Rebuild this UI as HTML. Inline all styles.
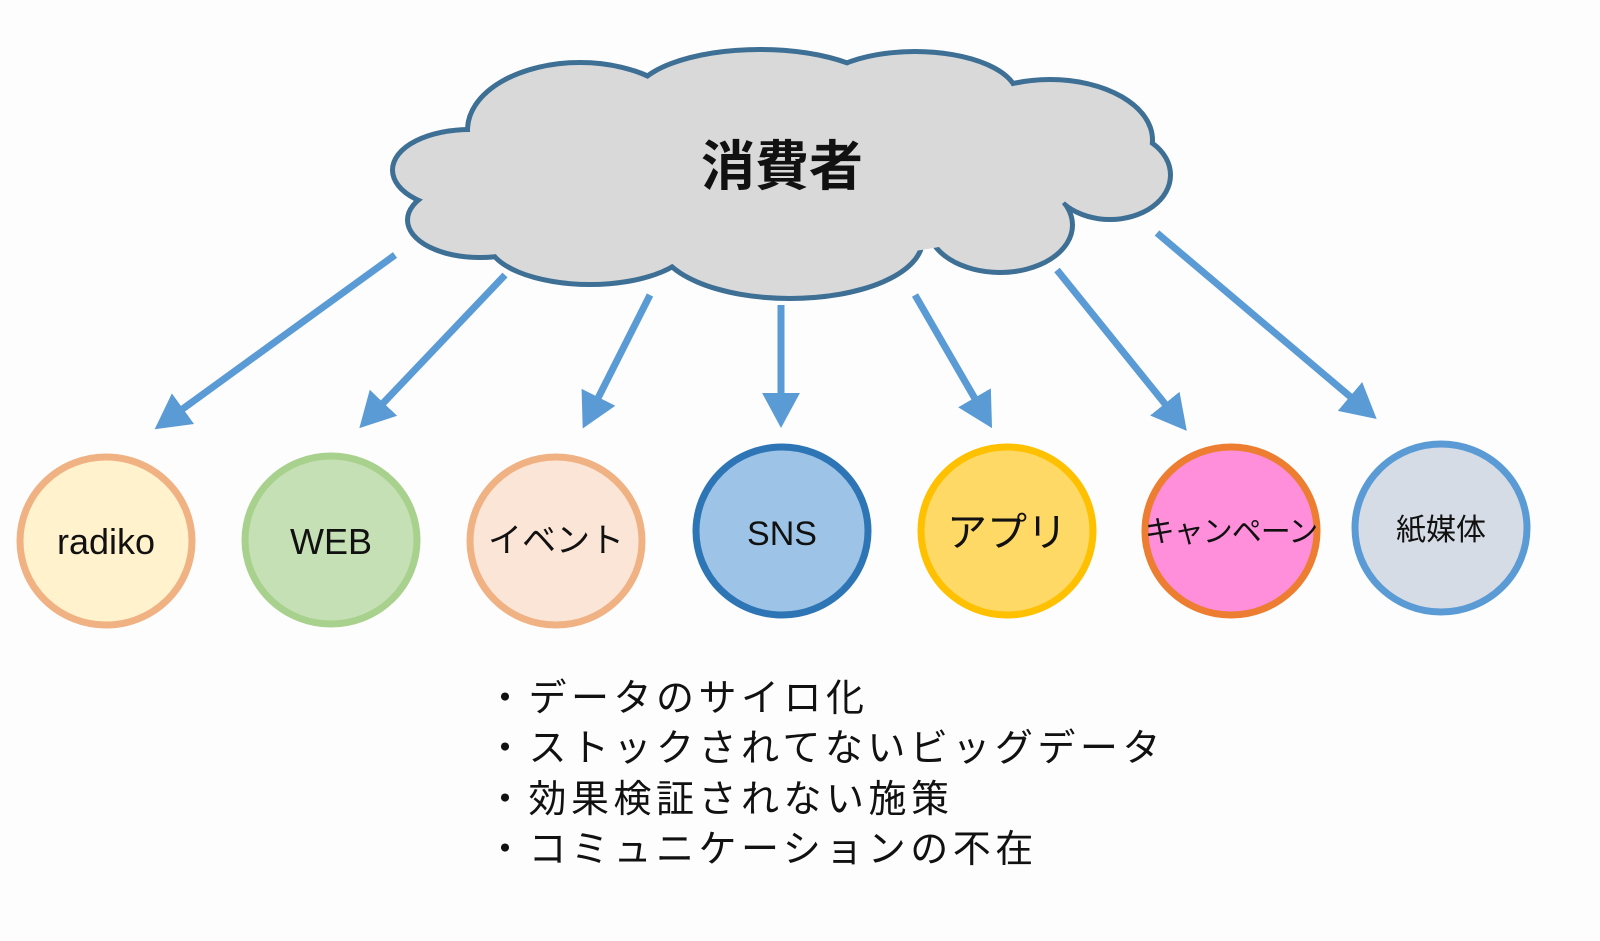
<!DOCTYPE html>
<html><head><meta charset="utf-8"><style>
body{margin:0;background:#fdfdfd;}
svg{display:block}
text{font-family:"Liberation Sans","Noto Sans CJK JP",sans-serif;fill:#111}
</style></head><body>
<svg width="1600" height="941" viewBox="0 0 1600 941">
<defs><marker id="a" markerWidth="6" markerHeight="6" refX="3" refY="3" orient="auto" markerUnits="strokeWidth"><path d="M0,0.3 L5,3 L0,5.7 Z" fill="#5b9bd5"/></marker></defs>
<g stroke="#3e6f95" stroke-width="10" fill="#3e6f95">
<ellipse cx="470" cy="170" rx="75" ry="38"/>
<ellipse cx="480" cy="220" rx="70" ry="35"/>
<ellipse cx="580" cy="130" rx="110" ry="65"/>
<ellipse cx="760" cy="100" rx="125" ry="48"/>
<ellipse cx="915" cy="97" rx="100" ry="43"/>
<ellipse cx="1050" cy="140" rx="100" ry="58"/>
<ellipse cx="1110" cy="175" rx="58" ry="42"/>
<ellipse cx="1000" cy="225" rx="70" ry="45"/>
<ellipse cx="790" cy="240" rx="130" ry="56"/>
<ellipse cx="590" cy="240" rx="100" ry="42"/>
</g>
<g fill="#d9d9d9">
<ellipse cx="470" cy="170" rx="75" ry="38"/>
<ellipse cx="480" cy="220" rx="70" ry="35"/>
<ellipse cx="580" cy="130" rx="110" ry="65"/>
<ellipse cx="760" cy="100" rx="125" ry="48"/>
<ellipse cx="915" cy="97" rx="100" ry="43"/>
<ellipse cx="1050" cy="140" rx="100" ry="58"/>
<ellipse cx="1110" cy="175" rx="58" ry="42"/>
<ellipse cx="1000" cy="225" rx="70" ry="45"/>
<ellipse cx="790" cy="240" rx="130" ry="56"/>
<ellipse cx="590" cy="240" rx="100" ry="42"/>
<ellipse cx="780" cy="175" rx="300" ry="85"/>
</g>
<text x="782" y="185" font-size="54" font-weight="bold" text-anchor="middle">消費者</text>
<g stroke="#5b9bd5" stroke-width="7" marker-end="url(#a)">
<line x1="395" y1="255" x2="166" y2="421"/>
<line x1="505" y1="275" x2="369" y2="418"/>
<line x1="650" y1="295" x2="589" y2="416"/>
<line x1="781" y1="305" x2="781" y2="414"/>
<line x1="915" y1="295" x2="985" y2="416"/>
<line x1="1057" y1="270" x2="1178" y2="420"/>
<line x1="1157" y1="233" x2="1366" y2="410"/>
</g>
<g stroke-width="7">
<ellipse cx="106" cy="541" rx="86" ry="84" fill="#fff2cc" stroke="#f0b183"/>
<ellipse cx="331" cy="540" rx="86" ry="84" fill="#c5e0b4" stroke="#a9d18e"/>
<ellipse cx="556" cy="541" rx="86" ry="84" fill="#fbe5d6" stroke="#f0b183"/>
<ellipse cx="782" cy="531" rx="86" ry="84" fill="#9dc3e6" stroke="#2e75b6"/>
<ellipse cx="1007" cy="531" rx="86" ry="84" fill="#ffd966" stroke="#ffc000"/>
<ellipse cx="1231" cy="531" rx="86" ry="84" fill="#ff8fdb" stroke="#ed7d31"/>
<ellipse cx="1441" cy="528" rx="86" ry="84" fill="#d6dce5" stroke="#5b9bd5"/>
</g>
<g text-anchor="middle">
<text x="106" y="554" font-size="36">radiko</text>
<text x="331" y="554" font-size="36">WEB</text>
<text x="556" y="552" font-size="34">イベント</text>
<text x="782" y="545" font-size="34">SNS</text>
<text x="1007" y="546" font-size="40">アプリ</text>
<text x="1231" y="542" font-size="30" letter-spacing="-1">キャンペーン</text>
<text x="1441" y="540" font-size="30">紙媒体</text>
</g>
<g font-size="38" letter-spacing="4.5">
<text x="486" y="711">・データのサイロ化</text>
<text x="486" y="761">・ストックされてないビッグデータ</text>
<text x="486" y="812">・効果検証されない施策</text>
<text x="486" y="862">・コミュニケーションの不在</text>
</g>
</svg>
</body></html>
